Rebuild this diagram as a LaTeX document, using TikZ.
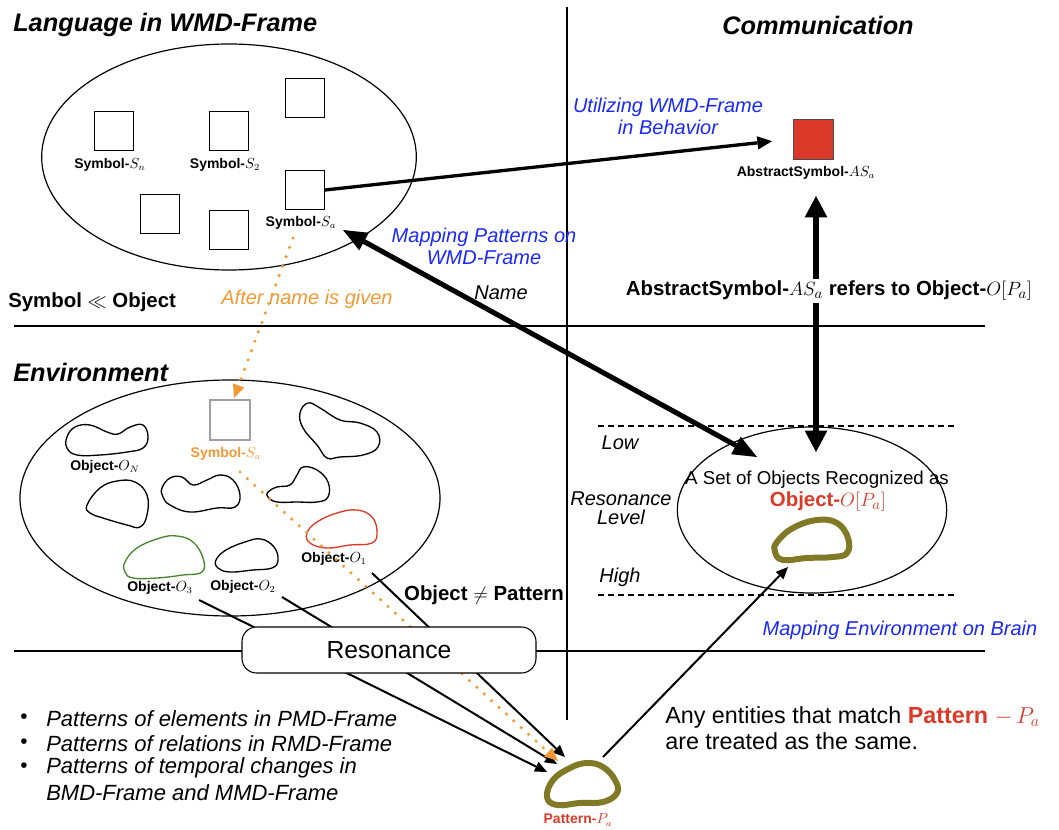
\documentclass[tikz,border=0pt]{standalone}
\usepackage{fontspec}
\setmainfont{Liberation Sans}
\usetikzlibrary{arrows.meta,shapes.geometric}
\definecolor{myblue}{RGB}{25,40,250}
\definecolor{myorange}{RGB}{242,152,52}
\definecolor{myred}{RGB}{220,58,40}
\definecolor{myolive}{RGB}{128,122,38}
\definecolor{mygreen}{RGB}{70,135,45}
\definecolor{sqred}{RGB}{216,57,40}
\definecolor{sqgray}{RGB}{160,160,160}
\tikzset{
  title/.style={font=\fontsize{19}{22}\selectfont\bfseries\itshape, inner sep=0pt},
  sym/.style={draw, line width=1pt, minimum size=29pt, inner sep=0pt},
  lbl/.style={font=\fontsize{10.5}{12}\selectfont\bfseries, inner sep=0pt},
  bluetxt/.style={text=myblue, font=\fontsize{15}{16.5}\selectfont\itshape, align=center, inner sep=0pt},
  itx/.style={font=\fontsize{15}{14.5}\selectfont\itshape, inner sep=0pt, align=center},
  btx/.style={font=\fontsize{15.3}{18}\selectfont\bfseries, inner sep=0pt},
  rtx/.style={font=\fontsize{14}{16}\selectfont, inner sep=0pt},
  bullettx/.style={font=\fontsize{16.5}{18}\selectfont\itshape, inner sep=0pt, anchor=west},
  sepline/.style={line width=1.5pt},
  dashline/.style={line width=1.1pt, dash pattern=on 4.5pt off 3pt},
  frame/.style={draw, ellipse, line width=0.9pt, inner sep=0pt},
  blob/.style={line width=1pt},
  pblob/.style={line width=4.5pt, draw=myolive},
  dots/.style={myorange, line width=2.6pt, line cap=round, dash pattern=on 0pt off 7.5pt},
  otip/.style={-{Triangle[length=10pt,width=9pt,line width=0pt,color=myorange]}},
  thintip/.style={line width=1.5pt, -{Triangle[length=9pt,width=8pt,line width=0pt]}},
  medtip/.style={line width=2.5pt, -{Triangle[length=11pt,width=10pt,line width=0pt]}},
  bigdbl/.style={line width=3.8pt, {Triangle[length=18pt,width=15pt,line width=0pt]}-{Triangle[length=18pt,width=15pt,line width=0pt]}},
  vdbl/.style={line width=4pt, {Triangle[length=16pt,width=17pt,line width=0pt]}-{Triangle[length=16pt,width=17pt,line width=0pt]}}
}
\begin{document}
\begin{tikzpicture}[x=0.75pt,y=-0.75pt]
\useasboundingbox (0,0) rectangle (1059,830);

% separators
\coordinate (hl1) at (14,326); \coordinate (hr1) at (985,326);
\coordinate (hl2) at (14,651); \coordinate (hr2) at (985,651);
\coordinate (vt) at (567,7); \coordinate (vb) at (567,720);
\draw[sepline] (hl1) -- (hr1);
\draw[sepline] (hl2) -- (hr2);
\draw[sepline] (vt) -- (vb);

% titles
\node[title, anchor=west] (tLang) at (13,25) {Language in WMD-Frame};
\node[title] (tComm) at (818,25) {Communication};
\node[title, anchor=west] (tEnv) at (13,372) {Environment};

% top ellipse
\node[frame, minimum width=281pt, minimum height=169.5pt] (ellTop) at (229,157) {};
\node[sym] (sqn) at (114,131) {};
\node[sym] (sq2) at (229,131) {};
\node[sym] (sq3) at (305,98) {};
\node[sym] (sqa) at (305,190) {};
\node[sym] (sq5) at (160,214) {};
\node[sym] (sq6) at (229,230) {};
\node[lbl] (lSn) at (110,165) {Symbol-$S_n$};
\node[lbl] (lS2) at (225,165) {Symbol-$S_2$};
\node[lbl] (lSa) at (301,223) {Symbol-$S_a$};

% communication
\node[draw=black!70, line width=0.6pt, fill=sqred, minimum size=30pt, inner sep=0pt] (redsq) at (813,139) {};
\node[lbl] (lAS) at (806,173) {AbstractSymbol-$AS_a$};
\node[bluetxt] (tUtil) at (668,116) {Utilizing WMD-Frame\\in Behavior};
\draw[medtip, shorten >=15.5pt] (sqa.east) -- (redsq.west);

% environment ellipse
\node[frame, minimum width=315pt, minimum height=177pt] (ellEnv) at (230,498) {};
\node[draw=sqgray, line width=1pt, minimum size=30pt, inner sep=0pt] (sqEnv) at (230,420) {};
\node[lbl, text=myorange] (lSaEnv) at (226,454) {Symbol-$S_a$};

% blobs
\draw[blob] plot[smooth cycle, tension=0.7] coordinates {(67,437) (75,427) (90,425) (107,432) (118,434) (130,427) (143,425) (148,437) (143,448) (127,452) (100,455) (77,455) (67,448)};
\draw[blob] plot[smooth cycle, tension=0.7] coordinates {(87,505) (100,488) (117,481) (135,482) (147,495) (147,515) (140,527) (127,525) (103,518) (90,513)};
\draw[blob] plot[smooth cycle, tension=0.7] coordinates {(162,488) (170,478) (182,477) (193,485) (207,480) (220,475) (233,480) (240,495) (235,507) (217,508) (190,512) (170,505) (163,497)};
\draw[blob, mygreen] plot[smooth cycle, tension=0.7] coordinates {(125,562) (137,548) (160,538) (177,536) (193,542) (203,558) (202,572) (183,575) (157,578) (133,578) (125,572)};
\draw[blob] plot[smooth cycle, tension=0.7] coordinates {(300,413) (308,403) (320,408) (340,420) (360,423) (377,432) (378,447) (363,455) (340,457) (327,458) (317,445) (303,428)};
\draw[blob] plot[smooth cycle, tension=0.7] coordinates {(268,492) (277,487) (290,485) (297,475) (303,467) (317,470) (328,482) (328,497) (317,502) (297,502) (277,502) (268,497)};
\draw[blob, myred] plot[smooth cycle, tension=0.7] coordinates {(307,533) (317,522) (337,513) (357,510) (372,517) (377,532) (372,543) (350,545) (327,548) (310,543)};
\draw[blob] plot[smooth cycle, tension=0.7] coordinates {(216,560) (226,550) (245,542) (261,539) (274,547) (278,560) (272,568) (253,570) (230,572) (218,568)};
\node[lbl] (lON) at (105,467) {Object-$O_N$};
\node[lbl] (lO1) at (334,559) {Object-$O_1$};
\node[lbl] (lO3) at (160,588) {Object-$O_3$};
\node[lbl] (lO2) at (243,587) {Object-$O_2$};

% pattern blob
\draw[pblob] plot[smooth cycle, tension=0.7] coordinates {(553,780) (570,768) (587,763) (603,767) (615,780) (617,793) (603,802) (580,803) (557,805) (547,797)};
\node[lbl, text=myred] (lPat) at (578,820) {Pattern-$P_a$};

% lines from objects to pattern (behind resonance box)
\coordinate (s3) at (199,600); \coordinate (e3) at (547,772);
\coordinate (s2) at (282,597); \coordinate (e2) at (557,764);
\coordinate (s1) at (372,573); \coordinate (e1) at (565,757);
\draw[thintip] (s3) -- (e3);
\draw[thintip] (s2) -- (e2);
\draw[thintip] (s1) -- (e1);

% orange dotted
\coordinate (d1s) at (293,238); \coordinate (d1e) at (234,398);
\coordinate (d2s) at (240,472); \coordinate (d2e) at (558,761);
\draw[dots, otip] (d1s) -- (d1e);
\draw[dots, otip] (d2s) -- (d2e);

% resonance box
\node[draw, fill=white, line width=0.8pt, rounded corners=11pt, minimum width=220.5pt, minimum height=34.5pt, inner sep=0pt, font=\fontsize{18.5}{22}\selectfont] (res) at (389,650) {Resonance};
\node[btx] (tNeq) at (484,595) {Object $\neq$ Pattern};

% right ellipse
\coordinate (dl1) at (598,426); \coordinate (dr1) at (955,426);
\coordinate (dl2) at (598,595); \coordinate (dr2) at (955,595);
\draw[dashline] (dl1) -- (dr1);
\draw[dashline] (dl2) -- (dr2);
\node[frame, minimum width=202pt, minimum height=124.5pt] (ellR) at (812,510) {};
\draw[pblob] plot[smooth cycle, tension=0.7] coordinates {(777,542) (793,528) (817,520) (837,523) (848,538) (847,553) (833,557) (807,558) (783,560) (775,552)};
\node[rtx] (tSet) at (817,480) {A Set of Objects Recognized as};
\node[btx, text=myred] (tObjP) at (828,502) {Object-$O[P_a]$};
\node[itx] (tLow) at (620,443) {Low};
\node[itx] (tHigh) at (620,577) {High};
\node[itx] (tRL) at (621,508) {Resonance\\Level};
\node[bluetxt] (tMapEnv) at (900,630) {Mapping Environment on Brain};

% pattern to object set
\coordinate (pp) at (603,757); \coordinate (pt) at (788,567);
\draw[thintip] (pp) -- (pt);

% big double arrow
\coordinate (bA) at (343,230); \coordinate (bB) at (757,457);
\draw[bigdbl] (bA) -- (bB);
\node[bluetxt] (tMapPat) at (484,246) {Mapping Patterns on\\WMD-Frame};
\node[itx] (tName) at (501,293) {Name};

% vertical double arrow
\coordinate (vA) at (816,196); \coordinate (vB) at (816,452);
\draw[vdbl] (vA) -- (vB);
\node[btx, fill=white, inner sep=2pt] (tRef) at (829,291) {AbstractSymbol-$AS_a$ refers to Object-$O[P_a]$};

% left texts
\node[btx, anchor=west] (tLL) at (8,302) {Symbol $\ll$ Object};
\node[itx, text=myorange] (tAfter) at (307,299) {After name is given};

% bullets
\node[bullettx, font=\fontsize{15.5}{18}\selectfont] (b1) at (20,719) {\textbullet};
\node[bullettx, font=\fontsize{15.5}{18}\selectfont] (b2) at (20,743.5) {\textbullet};
\node[bullettx, font=\fontsize{15.5}{18}\selectfont] (b3) at (20,768) {\textbullet};
\node[bullettx] (bt1) at (46,719) {Patterns of elements in PMD-Frame};
\node[bullettx] (bt2) at (46,743.5) {Patterns of relations in RMD-Frame};
\node[bullettx] (bt3) at (46,768) {Patterns of temporal changes in};
\node[bullettx] (bt4) at (46,792.5) {BMD-Frame and MMD-Frame};

% any entities
\node[font=\fontsize{17.5}{20}\selectfont, inner sep=0pt, anchor=west] (tAny1) at (665,717) {Any entities that match \textcolor{myred}{\bfseries Pattern $-\,P_a$}};
\node[font=\fontsize{17.5}{20}\selectfont, inner sep=0pt, anchor=west] (tAny2) at (665,741) {are treated as the same.};
\end{tikzpicture}
\end{document}
